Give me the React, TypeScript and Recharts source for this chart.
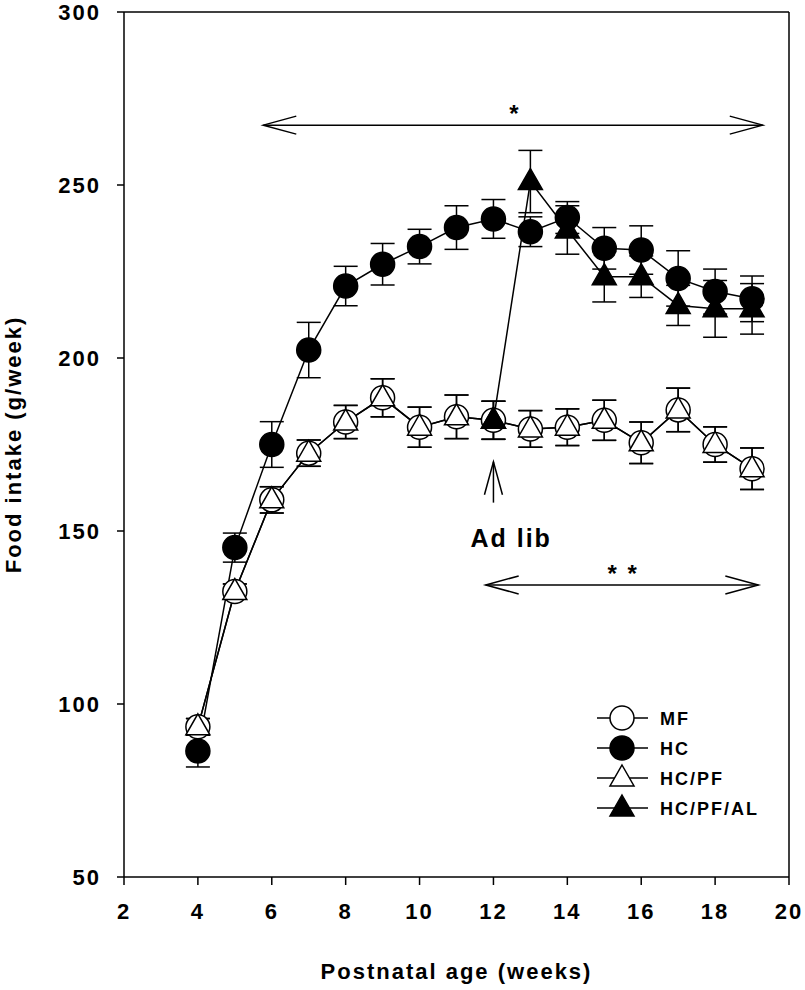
import { LineChart, Line, XAxis, YAxis, ErrorBar, ReferenceLine, ReferenceDot, Legend, Label } from "recharts"

const weeks = [4, 5, 6, 7, 8, 9, 10, 11, 12, 13, 14, 15, 16, 17, 18, 19]
const mfIntake = [93.4, 132.5, 159, 172.5, 181.5, 188.5, 180, 183, 182, 179.5, 180, 182, 175.5, 185, 175, 168]
const mfErr = [2.4, 2.2, 3.8, 3.8, 4.8, 5.5, 5.8, 6.3, 5.5, 5.3, 5.3, 5.8, 6, 6.3, 5.1, 6]
const pfIntake = [93.4, 132.5, 159, 172.5, 181.5, 188.5, 180, 183, 182, 179.5, 180, 182, 175.5, 185, 175, 168]
const pfErr = [2.4, 2.2, 3.8, 3.8, 4.8, 5.5, 5.8, 6.3, 5.5, 5.3, 5.3, 5.8, 6, 6.3, 5.1, 6]
const hcIntake = [86.4, 145.2, 175, 202.3, 220.8, 227.1, 232.2, 237.7, 240.2, 236.5, 240.6, 231.7, 231.2, 223, 219.2, 217.1]
const hcErr = [4.6, 4.2, 6.6, 8, 5.7, 6, 5, 6.3, 5.6, 4.3, 4.6, 6, 7, 8, 6.5, 6.6]
const alWeeks = [12, 13, 14, 15, 16, 17, 18, 19]
const alIntake = [182, 251, 237, 223.5, 223.5, 215.2, 214.2, 214.2]
const alErr = [5.5, 9, 7, 7.3, 6, 5.8, 8.2, 7.3]

const xTicks = [2, 4, 6, 8, 10, 12, 14, 16, 18, 20]
const yTicks = [50, 100, 150, 200, 250, 300]

const seriesNames = ["MF", "HC", "HC/PF", "HC/PF/AL"]

const build = (xs: number[], ys: number[], es: number[]) =>
  xs.map((week, i) => ({ week, value: ys[i], err: es[i] }))

const mfData = build(weeks, mfIntake, mfErr)
const pfData = build(weeks, pfIntake, pfErr)
const hcData = build(weeks, hcIntake, hcErr)
const alData = build(alWeeks, alIntake, alErr)

const FONT = "'Liberation Sans', Arial, sans-serif"

type Kind = "circle" | "triangle"

function Marker({ kind, fill, cx, cy }: { kind: Kind; fill: string; cx: number; cy: number }) {
  if (kind === "circle") {
    return <circle cx={cx} cy={cy} r={12} fill={fill} stroke="#000" strokeWidth={1.5} />
  }
  return (
    <path
      d={`M${cx},${cy - 13}L${cx + 12},${cy + 8}L${cx - 12},${cy + 8}Z`}
      fill={fill}
      stroke="#000"
      strokeWidth={1.5}
      strokeLinejoin="miter"
    />
  )
}

const dot = (kind: Kind, fill: string) => (p: any) => {
  const { cx, cy, index } = p
  if (cx == null || cy == null) return <g key={`${kind}${fill}${index}`} />
  return (
    <g key={`${kind}${fill}${index}`}>
      <Marker kind={kind} fill={fill} cx={cx} cy={cy} />
    </g>
  )
}

const doubleArrow = (p: any) => {
  const { x1, y1, x2, y2 } = p
  return (
    <g>
      <line x1={x1} y1={y1} x2={x2} y2={y2} stroke="#000" strokeWidth={1.5} />
      <polyline points={`${x1 + 33},${y1 - 9} ${x1},${y1} ${x1 + 33},${y1 + 9}`} fill="none" stroke="#000" strokeWidth={1.5} />
      <polyline points={`${x2 - 33},${y2 - 9} ${x2},${y2} ${x2 - 33},${y2 + 9}`} fill="none" stroke="#000" strokeWidth={1.5} />
    </g>
  )
}

const upArrow = (p: any) => {
  const { x1, y1, x2, y2 } = p
  const tipY = Math.min(y1, y2)
  const tailY = Math.max(y1, y2)
  return (
    <g>
      <line x1={x1} y1={tailY} x2={x2} y2={tipY} stroke="#000" strokeWidth={1.5} />
      <polyline points={`${x2 - 9},${tipY + 33} ${x2},${tipY} ${x2 + 9},${tipY + 33}`} fill="none" stroke="#000" strokeWidth={1.5} />
    </g>
  )
}

const legendMarks: { kind: Kind; fill: string }[] = [
  { kind: "circle", fill: "#fff" },
  { kind: "circle", fill: "#000" },
  { kind: "triangle", fill: "#fff" },
  { kind: "triangle", fill: "#000" },
]

function LegendBox() {
  return (
    <svg width={210} height={125} style={{ display: "block", overflow: "visible" }}>
      {seriesNames.map((name, i) => {
        const y = 18 + i * 30
        return (
          <g key={name}>
            <line x1={17} y1={y} x2={68} y2={y} stroke="#000" strokeWidth={1.5} />
            <Marker kind={legendMarks[i].kind} fill={legendMarks[i].fill} cx={42} cy={y} />
            <text x={80} y={y + 6.5} fontSize={18} fontWeight="bold" fontFamily={FONT} fill="#000" style={{ letterSpacing: "2px" }}>
              {name}
            </text>
          </g>
        )
      })}
    </svg>
  )
}

const axisStroke = { stroke: "#000", strokeWidth: 1.5 }
const tickStyle = { fontSize: 22, fontWeight: "bold", fill: "#000", fontFamily: FONT }

export default function App() {
  return (
    <div
      style={{
        position: "absolute",
        left: 0,
        top: 0,
        width: 805,
        height: 990,
        background: "#fff",
        fontFamily: FONT,
        fontWeight: "bold",
        letterSpacing: "2px",
      }}
    >
      <LineChart width={805} height={990} margin={{ top: 12, right: 16, bottom: 13, left: 10 }}>
        <XAxis
          type="number"
          dataKey="week"
          domain={[2, 20]}
          ticks={xTicks}
          interval={0}
          height={100}
          tickSize={8}
          tickMargin={18}
          axisLine={axisStroke}
          tickLine={axisStroke}
          tick={tickStyle}
        >
          <Label
            content={(p: any) => {
              const vb = p.viewBox
              return (
                <text x={vb.x + vb.width / 2} y={979} textAnchor="middle" fontSize={22} fontWeight="bold" fontFamily={FONT} fill="#000">
                  Postnatal age (weeks)
                </text>
              )
            }}
          />
        </XAxis>
        <YAxis
          type="number"
          domain={[50, 300]}
          ticks={yTicks}
          interval={0}
          width={114}
          tickSize={7}
          tickMargin={16}
          axisLine={axisStroke}
          tickLine={axisStroke}
          tick={tickStyle}
        >
          <Label
            content={(p: any) => {
              const vb = p.viewBox
              const cy = vb.y + vb.height / 2
              return (
                <text x={21} y={cy} transform={`rotate(-90, 21, ${cy})`} textAnchor="middle" fontSize={22} fontWeight="bold" fontFamily={FONT} fill="#000">
                  Food intake (g/week)
                </text>
              )
            }}
          />
        </YAxis>
        <ReferenceLine y={300} stroke="#000" strokeWidth={1.5} />
        <ReferenceLine x={20} stroke="#000" strokeWidth={1.5} />

        <ReferenceLine segment={[{ x: 5.77, y: 267.3 }, { x: 19.29, y: 267.3 }]} shape={doubleArrow} />
        <ReferenceLine segment={[{ x: 11.79, y: 134.4 }, { x: 19.17, y: 134.4 }]} shape={doubleArrow} />
        <ReferenceLine segment={[{ x: 12, y: 158.2 }, { x: 12, y: 170 }]} shape={upArrow} />
        <ReferenceDot x={12.58} y={270.8} r={0} fill="none" stroke="none" label={{ value: "*", position: "center", fontSize: 24, fill: "#000" }} />
        <ReferenceDot x={15.51} y={137.6} r={0} fill="none" stroke="none" label={{ value: "* *", position: "center", fontSize: 24, fill: "#000" }} />
        <ReferenceDot x={12.48} y={148} r={0} fill="none" stroke="none" label={{ value: "Ad lib", position: "center", fontSize: 25, fill: "#000" }} />

        <Line data={mfData} dataKey="value" name="MF" type="linear" stroke="#000" strokeWidth={1.5} dot={dot("circle", "#fff")} activeDot={false} isAnimationActive={false}>
          <ErrorBar dataKey="err" direction="y" width={12} stroke="#000" strokeWidth={1.5} />
        </Line>
        <Line data={pfData} dataKey="value" name="HC/PF" type="linear" stroke="#000" strokeWidth={1.5} dot={dot("triangle", "#fff")} activeDot={false} isAnimationActive={false}>
          <ErrorBar dataKey="err" direction="y" width={12} stroke="#000" strokeWidth={1.5} />
        </Line>
        <Line data={alData} dataKey="value" name="HC/PF/AL" type="linear" stroke="#000" strokeWidth={1.5} dot={dot("triangle", "#000")} activeDot={false} isAnimationActive={false}>
          <ErrorBar dataKey="err" direction="y" width={12} stroke="#000" strokeWidth={1.5} />
        </Line>
        <Line data={hcData} dataKey="value" name="HC" type="linear" stroke="#000" strokeWidth={1.5} dot={dot("circle", "#000")} activeDot={false} isAnimationActive={false}>
          <ErrorBar dataKey="err" direction="y" width={12} stroke="#000" strokeWidth={1.5} />
        </Line>

        <Legend
          layout="horizontal"
          align="center"
          verticalAlign="middle"
          content={() => <LegendBox />}
          wrapperStyle={{ left: 580, top: 700, width: 210, height: 125 }}
        />
      </LineChart>
    </div>
  )
}
